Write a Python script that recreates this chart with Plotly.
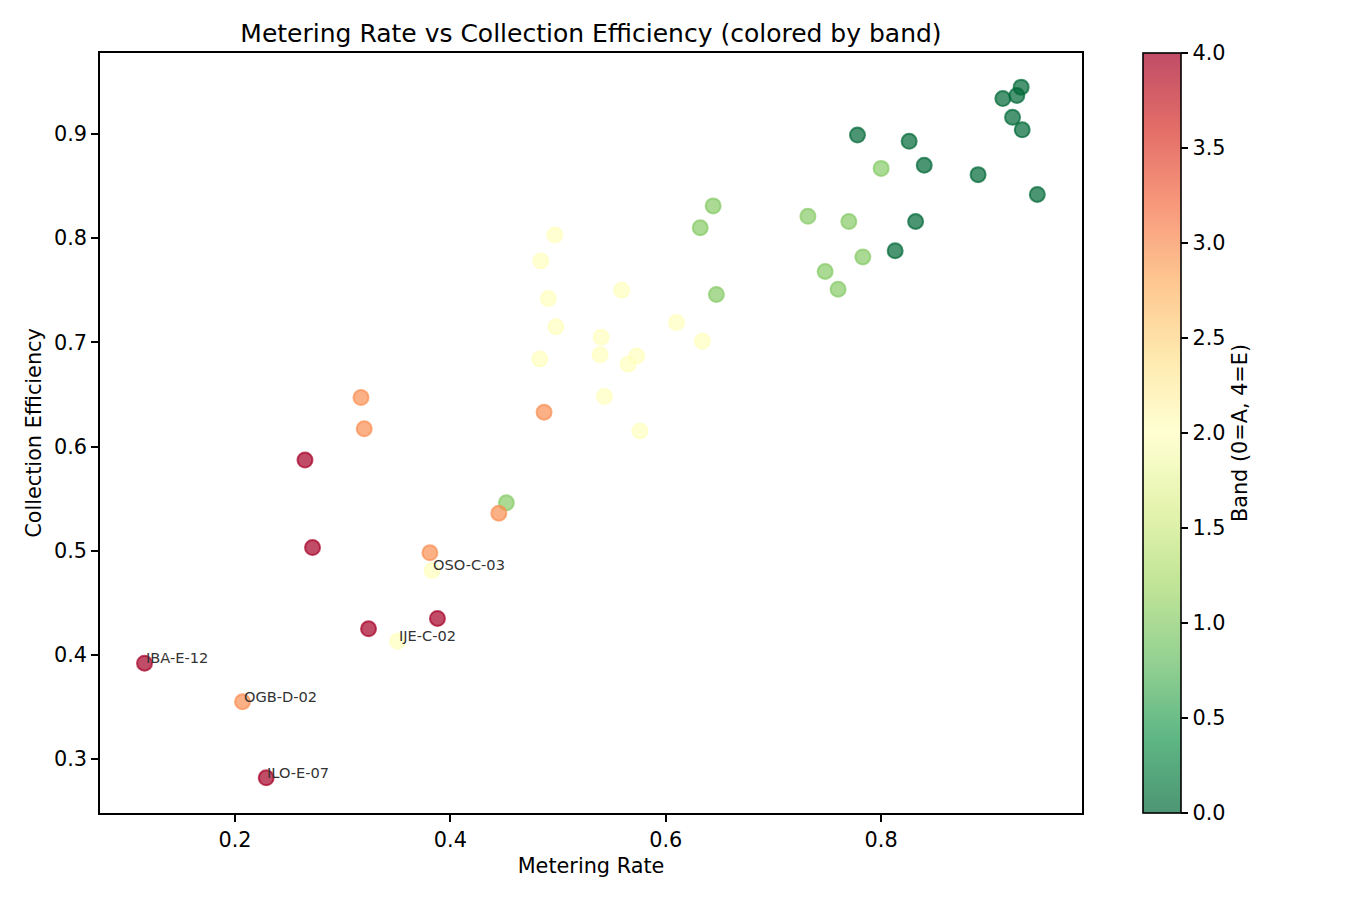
import plotly.graph_objects as go

# ---- data ----
metering_rate = [
    # band 0 (A)
    0.930, 0.926, 0.913, 0.922, 0.931, 0.778, 0.826, 0.840, 0.890, 0.945, 0.832, 0.813,
    # band 1 (B)
    0.800, 0.644, 0.632, 0.732, 0.770, 0.783, 0.748, 0.760, 0.647, 0.452,
    # band 2 (C)
    0.497, 0.484, 0.491, 0.498, 0.483, 0.559, 0.610, 0.540, 0.539, 0.573, 0.565, 0.634,
    0.543, 0.576, 0.383, 0.351,
    # band 3 (D)
    0.317, 0.320, 0.487, 0.445, 0.381, 0.207,
    # band 4 (E)
    0.265, 0.272, 0.388, 0.324, 0.116, 0.229,
]
collection_eff = [
    0.945, 0.937, 0.934, 0.916, 0.904, 0.899, 0.893, 0.870, 0.861, 0.842, 0.816, 0.788,
    0.867, 0.831, 0.810, 0.821, 0.816, 0.782, 0.768, 0.751, 0.746, 0.546,
    0.803, 0.778, 0.742, 0.715, 0.684, 0.750, 0.719, 0.705, 0.688, 0.687, 0.679, 0.701,
    0.648, 0.615, 0.481, 0.413,
    0.647, 0.617, 0.633, 0.536, 0.498, 0.355,
    0.587, 0.503, 0.435, 0.425, 0.392, 0.282,
]
band = [0] * 12 + [1] * 10 + [2] * 16 + [3] * 6 + [4] * 6
labels = [""] * 36 + ["OSO-C-03", "IJE-C-02"] + [""] * 5 + ["OGB-D-02"] + [""] * 4 + ["IBA-E-12", "ILO-E-07"]

# RdYlGn reversed, with alpha 0.7
rdylgn_r = ["#006837", "#1a9850", "#66bd63", "#a6d96a", "#d9ef8b", "#ffffbf",
            "#fee08b", "#fdae61", "#f46d43", "#d73027", "#a50026"]


def rgba(h, a=0.7):
    h = h.lstrip("#")
    return "rgba(%d,%d,%d,%.2f)" % (int(h[0:2], 16), int(h[2:4], 16), int(h[4:6], 16), a)


cscale = [[i / 10, rgba(c)] for i, c in enumerate(rdylgn_r)]

FONT = "DejaVu Sans, Verdana, sans-serif"
FS = 20.8

fig = go.Figure()
fig.add_trace(go.Scatter(
    x=metering_rate, y=collection_eff, mode="markers",
    marker=dict(
        size=15, color=band, colorscale=cscale, cmin=0, cmax=4,
        line=dict(width=2, color=band, colorscale=cscale, cmin=0, cmax=4),
        colorbar=dict(
            x=(1143 - 100) / 982, xanchor="left", xpad=0, ypad=0,
            y=0.5, yanchor="middle", len=1, lenmode="fraction",
            thickness=38, outlinewidth=1.6, outlinecolor="black",
            tickmode="linear", tick0=0, dtick=0.5, tickformat=".1f",
            ticks="outside", ticklen=7, tickwidth=1.6, tickcolor="black",
            tickfont=dict(family=FONT, size=FS, color="black"),
            title=dict(text="Band (0=A, 4=E)", side="right",
                       font=dict(family=FONT, size=FS, color="black")),
        ),
    ),
    showlegend=False, hoverinfo="x+y",
))

for xv, yv, lab in zip(metering_rate, collection_eff, labels):
    if lab:
        fig.add_annotation(x=xv, y=yv, text=lab, showarrow=False,
                           xanchor="left", yanchor="bottom", xshift=-1, yshift=-5,
                           font=dict(family=FONT, size=14.6, color="#333333"))

axis_common = dict(showline=True, linecolor="black", linewidth=1.6, mirror=True,
                   ticks="outside", ticklen=7, tickwidth=1.6, tickcolor="black",
                   showgrid=False, zeroline=False,
                   tickfont=dict(family=FONT, size=FS, color="black"))

fig.update_xaxes(range=[0.07465, 0.9865], tickmode="linear", tick0=0.2, dtick=0.2,
                 title=dict(text="Metering Rate", font=dict(family=FONT, size=FS, color="black"), standoff=8),
                 **axis_common)
fig.update_yaxes(range=[0.2482, 0.97776], tickmode="linear", tick0=0.3, dtick=0.1,
                 title=dict(text="Collection Efficiency", font=dict(family=FONT, size=FS, color="black"), standoff=7),
                 **axis_common)

fig.update_layout(
    width=1350, height=900,
    margin=dict(l=100, r=268, t=53, b=87),
    paper_bgcolor="white", plot_bgcolor="white",
    title=dict(text="Metering Rate vs Collection Efficiency (colored by band)",
               x=(591) / 1350, xanchor="center", y=1 - 33 / 900, yanchor="middle",
               font=dict(family=FONT, size=25, color="black")),
)

fig.write_html("out.html")
